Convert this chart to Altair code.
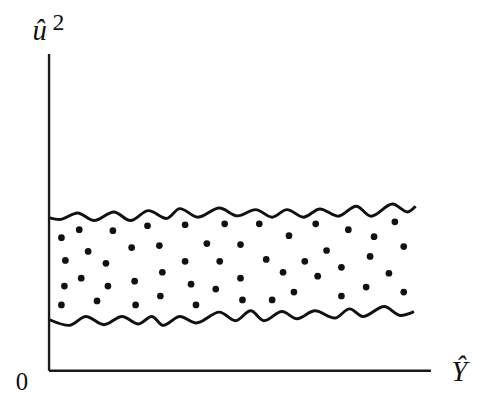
import altair as alt
import pandas as pd

# Upper wavy boundary (x along Y-hat, y along u-hat^2)
upper_x = [1, 11, 29.3, 46, 66, 82.7, 101, 119.3, 132.7, 151, 172.7, 191, 209.3, 226, 241,
           257.7, 274.3, 292.7, 311, 326, 347.7, 362.7, 371]
upper_y = [154, 152.3, 159, 151.3, 160, 151.3, 161.3, 153.3, 163.3, 154.7, 164, 156, 162.3,
           154.7, 162.3, 154.7, 163, 155.7, 165.7, 155.7, 168, 160, 165.7]

# Lower wavy boundary
lower_x = [1, 21, 37.7, 56, 74.3, 91, 104.3, 116, 132.7, 149.3, 172.7, 189, 204.3, 217.7,
           236, 251, 269.3, 289.3, 304.3, 317.7, 339.3, 356, 369.3]
lower_y = [51, 45.3, 54.3, 46, 54.3, 46.7, 54.3, 45.3, 54.3, 47.7, 58.7, 50, 60, 50, 59.3,
           52, 60, 52.7, 62, 54.3, 64.3, 55.3, 59.3]

# Scattered residual dots
dot_x = [13, 31, 65, 100, 138, 178, 40, 84, 112, 160, 17, 58, 138, 173, 115, 33, 16, 60, 87,
         144, 169, 13, 49, 88, 113, 149, 213, 270, 350, 243, 303, 329, 194, 359, 281, 220,
         259, 325, 296, 237, 272, 344, 194, 321, 248, 359, 196, 226, 296]
dot_y = [134, 142, 141, 146, 147, 148, 120, 124, 126, 128, 111, 108, 110, 110, 99, 93, 85,
         85, 90, 87, 82, 66, 70, 66, 75, 66, 148, 148, 150, 136, 142, 135, 127, 125, 121,
         112, 110, 115, 104, 99, 95, 98, 93, 84, 79, 79, 71, 71, 75]

y_label = "û"
y_label_sup = "2"
x_label = "Ŷ"
origin_label = "0"

xs = alt.Scale(domain=[0, 386], nice=False, zero=False)
ys = alt.Scale(domain=[0, 320], nice=False, zero=False)

ax = alt.Axis(title=None, labels=False, ticks=False, grid=False, domain=True,
              domainColor="#1a1a1a", domainWidth=2.4)

rows = []
for i, (x, y) in enumerate(zip(upper_x, upper_y)):
    rows.append({"x": x, "y": y, "series": "upper", "i": i})
for i, (x, y) in enumerate(zip(lower_x, lower_y)):
    rows.append({"x": x, "y": y, "series": "lower", "i": i})
waves = pd.DataFrame(rows)
dots = pd.DataFrame({"x": dot_x, "y": dot_y})

wave_layer = alt.Chart(waves).mark_line(
    interpolate="monotone", strokeWidth=3, color="#111111"
).encode(
    x=alt.X("x:Q", scale=xs, axis=ax),
    y=alt.Y("y:Q", scale=ys, axis=ax),
    detail="series:N",
    order="i:Q",
)

dot_layer = alt.Chart(dots).mark_point(
    filled=True, size=46, color="#111111", opacity=1, shape="circle"
).encode(
    x=alt.X("x:Q", scale=xs),
    y=alt.Y("y:Q", scale=ys),
)

FONT = "Liberation Serif, Times New Roman, serif"


def label(txt, x, y, size, style="normal", align="center"):
    return alt.Chart(pd.DataFrame({"t": [txt]})).mark_text(
        font=FONT, fontSize=size, fontStyle=style, align=align,
        baseline="alphabetic", color="#111111"
    ).encode(
        x=alt.X(datum=x, type="quantitative", scale=xs),
        y=alt.Y(datum=y, type="quantitative", scale=ys),
        text="t:N",
    )


texts = [
    label(y_label, -9, 334, 29, "italic"),
    label(y_label_sup, 10, 344, 24),
    label(x_label, 415, -11, 29, "italic"),
    label(origin_label, -27, -20, 25),
]

chart = alt.layer(wave_layer, dot_layer, *texts).properties(
    width=386,
    height=320,
    autosize=alt.AutoSizeParams(type="none"),
    padding={"left": 41, "top": 44, "right": 43, "bottom": 26},
    background="white",
).configure_view(stroke=None)

chart.save("out.html", embed_options={"renderer": "svg", "actions": False})
